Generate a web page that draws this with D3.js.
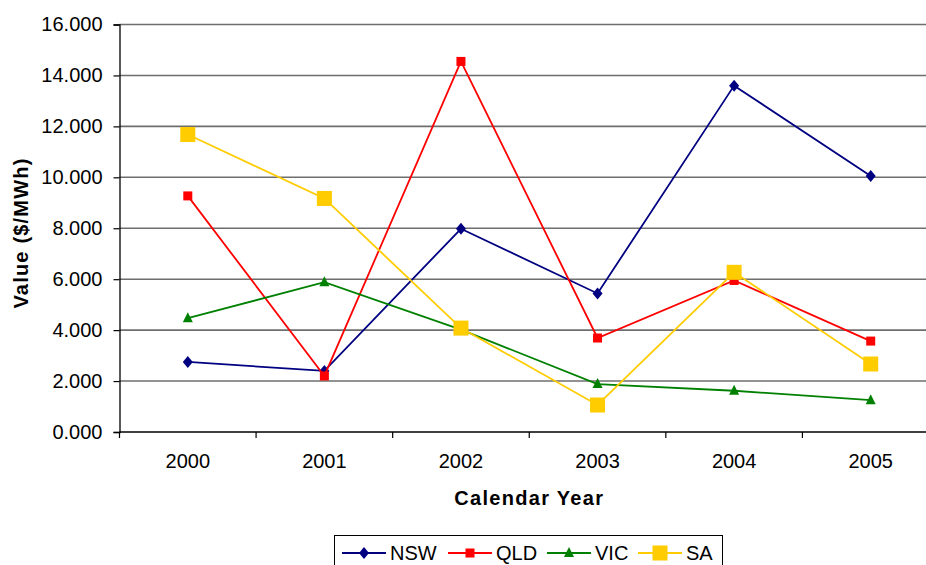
<!DOCTYPE html>
<html>
<head>
<meta charset="utf-8">
<script src="https://cdn.jsdelivr.net/npm/d3@7"></script>
<style>
  html, body { margin: 0; padding: 0; background: #fff; }
  svg { display: block; font-family: "Liberation Sans", Arial, sans-serif; }
</style>
</head>
<body>
<svg id="chart" width="926" height="565"></svg>
<script>
// Annual values by region ($/MWh)
const years = ["2000", "2001", "2002", "2003", "2004", "2005"];
const nsw = [2.75, 2.40, 7.98, 5.44, 13.60, 10.05];
const qld = [9.27, 2.20, 14.55, 3.69, 5.95, 3.57];
const vic = [4.47, 5.88, 4.02, 1.88, 1.62, 1.25];
const sa  = [11.68, 9.17, 4.08, 1.06, 6.27, 2.67];
const yTicks = [0, 2, 4, 6, 8, 10, 12, 14, 16];

const series = [
  { name: "NSW", values: nsw, color: "#000080", shape: "diamond", size: 10 },
  { name: "QLD", values: qld, color: "#FF0000", shape: "square", size: 9 },
  { name: "VIC", values: vic, color: "#008000", shape: "triangle", size: 10 },
  { name: "SA",  values: sa,  color: "#FFCC00", shape: "square", size: 15 }
];

const FONT = "Liberation Sans, Arial, sans-serif";
const svg = d3.select("#chart");
const plotLeft = 119.5, plotRight = 939, plotTop = 24.5, plotBottom = 432;

const x = d3.scaleBand().domain(years).range([plotLeft, plotRight]).padding(0);
const y = d3.scaleLinear().domain([0, 16]).range([plotBottom, plotTop]);
const cx = yr => x(yr) + x.bandwidth() / 2;

// Horizontal gridlines
svg.append("g")
  .selectAll("line")
  .data(yTicks.filter(t => t > 0))
  .join("line")
  .attr("x1", plotLeft).attr("x2", plotRight)
  .attr("y1", d => y(d)).attr("y2", d => y(d))
  .attr("stroke", "#6e6e6e")
  .attr("stroke-width", 1.6);

// Y axis
const yAxis = d3.axisLeft(y)
  .tickValues(yTicks)
  .tickSize(6)
  .tickPadding(11)
  .tickFormat(d3.format(".3f"));
const gy = svg.append("g").attr("transform", `translate(${plotLeft},0)`).call(yAxis)
  .attr("font-size", 20).attr("font-family", FONT);
gy.select(".domain").attr("stroke", "#000").attr("stroke-width", 1.3);
gy.selectAll(".tick line").attr("stroke", "#000").attr("stroke-width", 1.2);
gy.selectAll(".tick text").attr("fill", "#000");

// X axis: labels at band centres, ticks at band boundaries
const xAxis = d3.axisBottom(x).tickSize(0).tickPadding(0);
const gx = svg.append("g").attr("transform", `translate(0,${plotBottom})`).call(xAxis)
  .attr("font-size", 20).attr("font-family", FONT);
gx.select(".domain").remove();
gx.selectAll(".tick text")
  .attr("fill", "#000")
  .attr("dy", null)
  .attr("y", 36);

svg.append("line")
  .attr("x1", plotLeft).attr("x2", plotRight)
  .attr("y1", plotBottom).attr("y2", plotBottom)
  .attr("stroke", "#000").attr("stroke-width", 1.3);

svg.append("g")
  .selectAll("line")
  .data(years)
  .join("line")
  .attr("x1", d => x(d)).attr("x2", d => x(d))
  .attr("y1", plotBottom).attr("y2", plotBottom + 6)
  .attr("stroke", "#000").attr("stroke-width", 1.2);

// Axis titles
svg.append("text")
  .attr("x", (plotLeft + plotRight) / 2)
  .attr("y", 505)
  .attr("text-anchor", "middle")
  .attr("font-size", 20)
  .attr("font-weight", "bold")
  .attr("letter-spacing", "1.3px")
  .text("Calendar Year");

svg.append("text")
  .attr("transform", "translate(28,233) rotate(-90)")
  .attr("text-anchor", "middle")
  .attr("font-size", 20)
  .attr("font-weight", "bold")
  .attr("letter-spacing", "1.2px")
  .text("Value ($/MWh)");

// Marker drawing
function marker(g, s, px, py) {
  const h = s.size / 2;
  if (s.shape === "diamond") {
    g.append("path")
      .attr("d", `M${px},${py - h - 1}L${px + h},${py}L${px},${py + h + 1}L${px - h},${py}Z`)
      .attr("fill", s.color);
  } else if (s.shape === "square") {
    g.append("rect")
      .attr("x", px - h).attr("y", py - h)
      .attr("width", s.size).attr("height", s.size)
      .attr("fill", s.color);
  } else {
    g.append("path")
      .attr("d", `M${px},${py - h - 1}L${px + h},${py + h - 1}L${px - h},${py + h - 1}Z`)
      .attr("fill", s.color);
  }
}

// Series lines and markers
const line = d3.line().x((d, i) => cx(years[i])).y(d => y(d));
series.forEach(s => {
  const g = svg.append("g");
  g.append("path")
    .datum(s.values)
    .attr("d", line)
    .attr("fill", "none")
    .attr("stroke", s.color)
    .attr("stroke-width", 1.8);
  s.values.forEach((v, i) => marker(g, s, cx(years[i]), y(v)));
});

// Legend
const lg = svg.append("g");
lg.append("rect")
  .attr("x", 334.5).attr("y", 535.5)
  .attr("width", 388).attr("height", 40)
  .attr("fill", "#fff").attr("stroke", "#000").attr("stroke-width", 1);
const legendX = [342, 448, 547, 638];
series.forEach((s, i) => {
  const lx = legendX[i], ly = 553;
  lg.append("line")
    .attr("x1", lx).attr("x2", lx + 44)
    .attr("y1", ly).attr("y2", ly)
    .attr("stroke", s.color).attr("stroke-width", 1.8);
  marker(lg, s, lx + 22, ly);
  lg.append("text")
    .attr("x", lx + 48).attr("y", ly + 7)
    .attr("font-size", 20)
    .attr("font-family", FONT)
    .text(s.name);
});
</script>
</body>
</html>
